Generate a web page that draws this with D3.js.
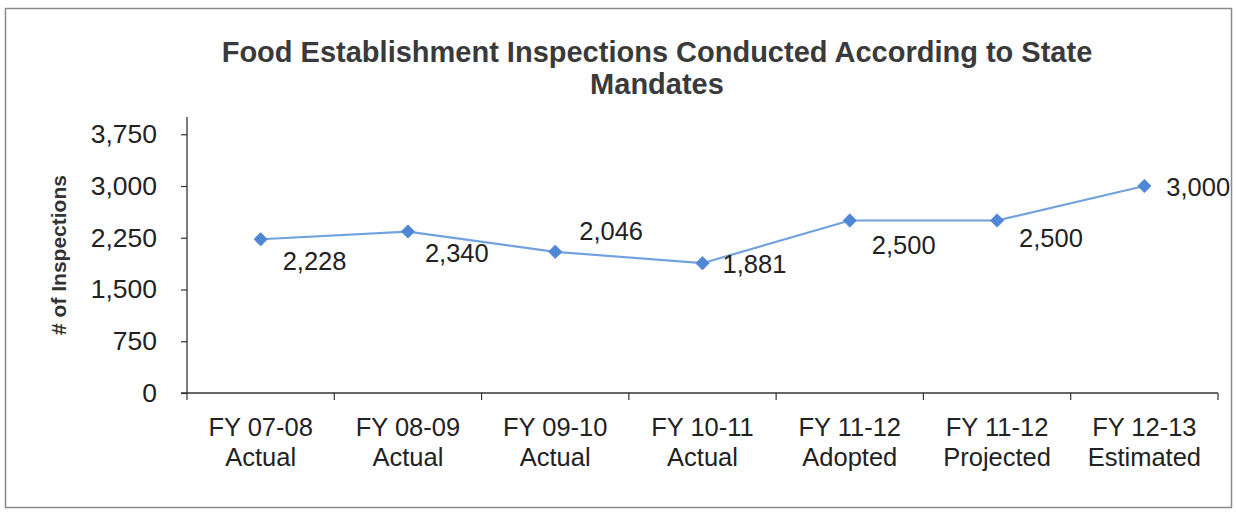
<!DOCTYPE html>
<html>
<head>
<meta charset="utf-8">
<script src="https://cdn.jsdelivr.net/npm/d3@7"></script>
<style>
  html, body { margin: 0; padding: 0; background: #fff; }
  svg { display: block; font-family: "Liberation Sans", Arial, sans-serif; }
</style>
</head>
<body>
<svg id="chart" width="1236" height="512"></svg>
<script>
// ---- data ----
const categoryYears = ["FY 07-08", "FY 08-09", "FY 09-10", "FY 10-11", "FY 11-12", "FY 11-12", "FY 12-13"];
const categoryTypes = ["Actual", "Actual", "Actual", "Actual", "Adopted", "Projected", "Estimated"];
const inspections = [2228, 2340, 2046, 1881, 2500, 2500, 3000];
const yTicks = [0, 750, 1500, 2250, 3000, 3750];
const yMax = 4000;
const titleLines = ["Food Establishment Inspections Conducted According to State", "Mandates"];
const yTitle = "# of Inspections";

// ---- layout (label placement relative to each point) ----
const labelOffsets = [[22, 22], [17, 21], [24, -21], [20, 1], [22, 24], [22, 17], [22, 1]];

const svg = d3.select("#chart");
const plot = { left: 187, right: 1218, top: 117, bottom: 393 };

// frame
svg.append("rect").attr("x", 5.5).attr("y", 8.5).attr("width", 1226).attr("height", 499)
  .attr("fill", "none").attr("stroke", "#8a8a8a").attr("stroke-width", 1.5);

// title
const title = svg.append("text").attr("text-anchor", "middle")
  .attr("font-weight", "bold").attr("font-size", 29).attr("fill", "#3a3a3a");
titleLines.forEach((t, i) => {
  title.append("tspan").attr("x", 657).attr("y", 62 + i * 32).text(t);
});

const idx = d3.range(inspections.length);
const x = d3.scaleBand().domain(idx).range([plot.left, plot.right]).padding(0);
const y = d3.scaleLinear().domain([0, yMax]).range([plot.bottom, plot.top]);

// y axis
const yAxis = svg.append("g").attr("transform", `translate(${plot.left},0)`)
  .call(d3.axisLeft(y).tickValues(yTicks).tickFormat(d3.format(",")).tickSize(6).tickPadding(24));
yAxis.select(".domain").attr("stroke", "#333").attr("stroke-width", 1.3)
  .attr("d", `M0,${plot.top}V${plot.bottom}`);
yAxis.selectAll(".tick line").attr("stroke", "#333").attr("stroke-width", 1.2);
yAxis.selectAll(".tick text").attr("font-size", 26.5).attr("fill", "#222")
  .attr("font-family", "'Liberation Sans', Arial, sans-serif");

// x axis line and boundary ticks
const xg = svg.append("g");
xg.append("line").attr("x1", plot.left - 6).attr("x2", plot.right)
  .attr("y1", plot.bottom).attr("y2", plot.bottom).attr("stroke", "#333").attr("stroke-width", 1.3);
const bounds = idx.map(i => x(i)).concat([x(idx[idx.length - 1]) + x.bandwidth()]);
xg.selectAll("line.b").data(bounds).join("line").attr("class", "b")
  .attr("x1", d => d).attr("x2", d => d)
  .attr("y1", plot.bottom).attr("y2", plot.bottom + 7)
  .attr("stroke", "#333").attr("stroke-width", 1.2);

// x labels
const xl = xg.selectAll("text.xl").data(idx).join("text").attr("class", "xl")
  .attr("text-anchor", "middle").attr("font-size", 25.5).attr("fill", "#222");
xl.append("tspan").attr("x", i => x(i) + x.bandwidth() / 2).attr("y", 436).text(i => categoryYears[i]);
xl.append("tspan").attr("x", i => x(i) + x.bandwidth() / 2).attr("y", 466).text(i => categoryTypes[i]);

// y title
svg.append("text").attr("transform", `translate(66,255) rotate(-90)`)
  .attr("text-anchor", "middle").attr("font-weight", "bold").attr("font-size", 21)
  .attr("fill", "#333").text(yTitle);

// line
const cx = i => x(i) + x.bandwidth() / 2;
const line = d3.line().x(i => cx(i)).y(i => y(inspections[i]));
svg.append("path").datum(idx).attr("d", line)
  .attr("fill", "none").attr("stroke", "#72a2de").attr("stroke-width", 2.2);

// markers (square rotated 45deg = Excel diamond)
svg.selectAll("path.m").data(idx).join("path").attr("class", "m")
  .attr("d", d3.symbol().type(d3.symbolSquare).size(90))
  .attr("transform", i => `translate(${cx(i)},${y(inspections[i])}) rotate(45)`)
  .attr("fill", "#4f86d6").attr("stroke", "#5a8fda").attr("stroke-width", 0.8);

// data labels
svg.selectAll("text.dl").data(idx).join("text").attr("class", "dl")
  .attr("x", i => cx(i) + labelOffsets[i][0])
  .attr("y", i => y(inspections[i]) + labelOffsets[i][1])
  .attr("dy", "0.36em")
  .attr("font-size", 25.5).attr("fill", "#222")
  .text(i => d3.format(",")(inspections[i]));
</script>
</body>
</html>
